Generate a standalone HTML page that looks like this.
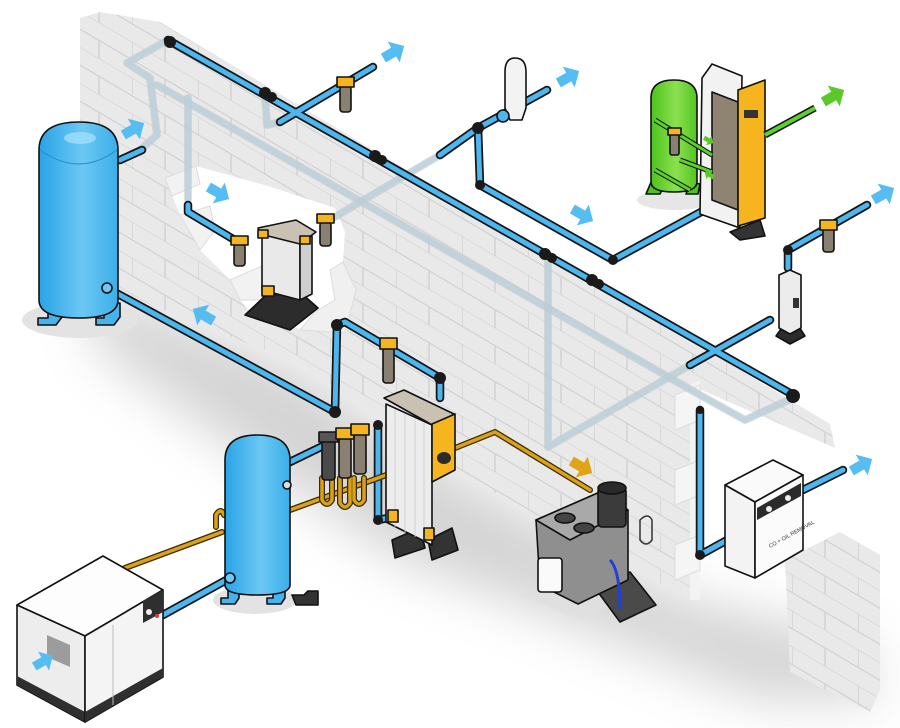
<!DOCTYPE html>
<html><head><meta charset="utf-8"><style>
html,body{margin:0;padding:0;background:#fff;}
svg{display:block;}
.po{fill:none;stroke:#151515;stroke-width:8.5;stroke-linejoin:round;stroke-linecap:round}
.pi{fill:none;stroke:#4cb7ef;stroke-width:5;stroke-linejoin:round;stroke-linecap:round}
.fd{fill:none;stroke:#b8d0dc;stroke-width:6;stroke-linejoin:round;stroke-linecap:round;opacity:.75}
.fdo{fill:none;stroke:#c4c4c4;stroke-width:8;stroke-linejoin:round;stroke-linecap:round;opacity:.55}
.yo{fill:none;stroke:#3a2a00;stroke-width:6;stroke-linejoin:round;stroke-linecap:round}
.yi{fill:none;stroke:#d9a21a;stroke-width:3.5;stroke-linejoin:round;stroke-linecap:round}
.k{stroke:#111;stroke-width:1.6;stroke-linejoin:round}
</style></head><body>
<svg width="900" height="728" viewBox="0 0 900 728" xmlns="http://www.w3.org/2000/svg">
<defs>
<pattern id="brick" width="66" height="36" patternUnits="userSpaceOnUse" patternTransform="skewY(30.5)">
<rect width="66" height="36" fill="#e9e9e9"/>
<path d="M0 0H66M0 18H66M0 0V18M33 18V36" stroke="#cfcfcf" stroke-width="1.2" fill="none"/>
</pattern>
<linearGradient id="tankg" x1="0" x2="1"><stop offset="0" stop-color="#2aa3e6"/><stop offset=".55" stop-color="#6cc8f4"/><stop offset="1" stop-color="#3aaee9"/></linearGradient>
<linearGradient id="greeng" x1="0" x2="1"><stop offset="0" stop-color="#4cc41c"/><stop offset=".55" stop-color="#8be04f"/><stop offset="1" stop-color="#52c422"/></linearGradient>
<filter id="bl" x="-20%" y="-20%" width="140%" height="140%"><feGaussianBlur stdDeviation="26"/></filter>
<g id="arrow"><path d="M-10 -5 L2 -5 L2 -12 L14 0 L2 12 L2 5 L-10 5 Z"/></g>
</defs>

<path d="M80 282 L117 292 L300 365 L450 468 L690 600 L860 640 L880 700 L760 700 L560 620 L400 560 L250 460 L100 350 Z" fill="#a0a0a0" opacity=".45" filter="url(#bl)"/>

<path d="M80 18 L100 12 L160 22 L830 424 L835 448 L690 385 L690 600 L450 468 L300 364 L117 292 L80 282 Z" fill="url(#brick)"/>
<path d="M165 178 L196 166 L268 186 L335 208 L345 232 L343 262 L356 290 L346 333 L305 330 L255 318 L240 300 L230 280 L200 250 L180 215 Z" fill="#fff"/>
<path d="M165 178 L196 166 L200 184 L172 196 Z M180 215 L210 206 L215 230 L200 250 Z M230 280 L262 266 L262 300 L240 300 Z" fill="#f2f2f2" stroke="#dcdcdc"/>
<path d="M300 330 L345 333 L356 290 L343 262 L330 270 L335 300 L315 312 Z" fill="#f0f0f0" stroke="#dcdcdc"/>
<path d="M690 385 L700 380 L700 600 L690 600 Z" fill="#f3f3f3"/>
<path d="M675 395 L700 385 L700 420 L675 430 Z M675 470 L700 460 L700 495 L675 505 Z M675 545 L700 535 L700 570 L675 580 Z" fill="#f5f5f5" stroke="#ddd"/>
<path d="M785 560 L840 532 L880 555 L880 690 L870 712 L790 672 Z" fill="url(#brick)"/>

<g>
<polyline class="fdo" points="168,40 127,63 150,78 157,135 140,150 120,160"/>
<polyline class="fd" points="168,40 127,63 150,78 157,135 140,150 120,160"/>
<polyline class="fdo" points="157,85 700,395 745,420 793,398"/>
<polyline class="fd" points="157,85 700,395 745,420 793,398"/>
<polyline class="fdo" points="188,98 188,200"/>
<polyline class="fd" points="188,98 188,200"/>
<polyline class="fdo" points="265,95 267,125 280,122"/>
<polyline class="fd" points="265,95 267,125 280,122"/>
<polyline class="fdo" points="548,258 548,447 690,365"/>
<polyline class="fd" points="548,258 548,447 690,365"/>
<polyline class="fdo" points="333,218 440,155"/>
<polyline class="fd" points="333,218 440,155"/>
</g>

<g>
<polyline class="po" points="168,40 795,396"/>
<polyline class="po" points="120,160 142,150"/>
<polyline class="po" points="280,122 373,67"/>
<polyline class="po" points="188,205 188,212 238,242"/>
<polyline class="po" points="440,155 478,128 547,90"/>
<polyline class="po" points="478,128 480,185 613,260 723,200"/>
<polyline class="po" points="690,365 770,320"/>
<polyline class="po" points="788,268 788,250 867,205"/>
<polyline class="po" points="700,410 700,555 740,533"/>
<polyline class="po" points="803,490 843,470"/>
<polyline class="po" points="107,288 335,412 337,325 345,322 440,378 440,398"/>
<polyline class="po" points="290,462 325,445"/>
<polyline class="po" points="163,615 230,578"/>
<polyline class="po" points="378,425 378,520 388,518"/>
<polyline class="pi" points="168,40 795,396"/>
<polyline class="pi" points="120,160 142,150"/>
<polyline class="pi" points="280,122 373,67"/>
<polyline class="pi" points="188,205 188,212 238,242"/>
<polyline class="pi" points="440,155 478,128 547,90"/>
<polyline class="pi" points="478,128 480,185 613,260 723,200"/>
<polyline class="pi" points="690,365 770,320"/>
<polyline class="pi" points="788,268 788,250 867,205"/>
<polyline class="pi" points="700,410 700,555 740,533"/>
<polyline class="pi" points="803,490 843,470"/>
<polyline class="pi" points="107,288 335,412 337,325 345,322 440,378 440,398"/>
<polyline class="pi" points="290,462 325,445"/>
<polyline class="pi" points="163,615 230,578"/>
<polyline class="pi" points="378,425 378,520 388,518"/>
</g>
<g fill="#1a1a1a">
<circle cx="170" cy="42" r="6"/><circle cx="265" cy="93" r="6"/><circle cx="272" cy="97" r="5"/>
<circle cx="375" cy="156" r="6"/><circle cx="382" cy="160" r="5"/>
<circle cx="545" cy="254" r="6"/><circle cx="552" cy="258" r="5"/>
<circle cx="592" cy="280" r="6"/><circle cx="599" cy="284" r="5"/>
<circle cx="793" cy="396" r="7"/><circle cx="478" cy="128" r="6"/><circle cx="480" cy="185" r="5"/>
<circle cx="613" cy="260" r="5"/><circle cx="700" cy="555" r="5"/><circle cx="335" cy="412" r="6"/>
<circle cx="337" cy="325" r="6"/><circle cx="440" cy="378" r="6"/><circle cx="788" cy="250" r="5"/>
<circle cx="378" cy="425" r="5"/><circle cx="378" cy="520" r="5"/><circle cx="700" cy="410" r="4"/>
</g>

<polyline class="yo" points="125,568 222,532"/><polyline class="yi" points="125,568 222,532"/>
<polyline class="yo" points="290,510 400,470 495,432 590,490"/><polyline class="yi" points="290,510 400,470 495,432 590,490"/>
<path class="yo" d="M322 478 v22 q5 8 10 0 v-22 M340 478 v25 q5 8 10 0 v-25 M354 478 v22 q5 8 10 0 v-22 M216 527 v-12 q5 -8 8 0 M255 598 q10 14 35 0"/>
<path class="yi" d="M322 478 v22 q5 8 10 0 v-22 M340 478 v25 q5 8 10 0 v-25 M354 478 v22 q5 8 10 0 v-22 M216 527 v-12 q5 -8 8 0 M255 598 q10 14 35 0"/>

<ellipse cx="80" cy="320" rx="58" ry="18" fill="#e3e3e3"/>
<path class="k" d="M48 300 v18 h-10 v7 h18 l6 -8 v-14 Z M104 304 v14 h-8 v7 h18 l6 -8 v-14 Z" fill="#47b3ec"/>
<path class="k" d="M39 150 Q39 122 79 122 Q118 122 118 150 V300 Q118 318 79 318 Q39 318 39 300 Z" fill="url(#tankg)"/>
<path d="M40 150 Q79 178 117 150" fill="none" stroke="#1f8fcc" stroke-width="1"/>
<ellipse cx="80" cy="138" rx="16" ry="6" fill="#a8e2fb" opacity=".7"/>
<circle cx="107" cy="288" r="5" class="k" fill="#6cc8f4"/>

<path d="M245 315 L265 296 L300 292 L318 308 L290 330 Z" fill="#2c2c2c" class="k"/>
<path class="k" d="M262 232 L300 242 L300 300 L262 290 Z" fill="#e9e9e9"/>
<path class="k" d="M300 242 L312 236 L312 294 L300 300 Z" fill="#cfcfcf"/>
<path class="k" d="M258 228 L296 220 L316 232 L300 244 L260 234 Z" fill="#c9c2b4"/>
<rect x="258" y="230" width="10" height="8" fill="#f4b521" class="k"/><rect x="300" y="236" width="10" height="8" fill="#f4b521" class="k"/>
<rect x="262" y="286" width="12" height="10" fill="#f4b521" class="k"/>
<g class="k">
<rect x="234" y="244" width="11" height="22" rx="3" fill="#8a8071"/><path d="M231 236 h17 v9 h-17 Z" fill="#f4b521"/>
<rect x="320" y="222" width="11" height="24" rx="3" fill="#8a8071"/><path d="M317 214 h17 v9 h-17 Z" fill="#f4b521"/>
<rect x="340" y="86" width="11" height="26" rx="3" fill="#8a8071"/><path d="M337 77 h17 v10 h-17 Z" fill="#f4b521"/>
<rect x="383" y="347" width="11" height="36" rx="3" fill="#8a8071"/><path d="M380 338 h17 v11 h-17 Z" fill="#f4b521"/>
<rect x="823" y="228" width="11" height="24" rx="3" fill="#8a8071"/><path d="M820 220 h17 v10 h-17 Z" fill="#f4b521"/>
</g>

<path class="k" d="M505 72 Q505 58 515 58 Q526 58 526 72 V108 L522 120 H510 L505 108 Z" fill="#f3f3f3"/>
<circle cx="503" cy="116" r="6" fill="#4cb7ef" class="k"/>

<ellipse cx="675" cy="200" rx="38" ry="10" fill="#e6e6e6"/>
<path class="k" d="M652 180 l-6 14 h14 l4 -8 Z M690 182 l-4 12 h12 l2 -10 Z" fill="#4cc41c"/>
<path class="k" d="M651 98 Q651 80 674 80 Q697 80 697 98 V182 Q697 192 674 192 Q651 192 651 182 Z" fill="url(#greeng)"/>
<path class="k" d="M702 78 L712 64 L742 76 L740 228 L700 214 Z" fill="#f2f2f2"/>
<path class="k" d="M712 92 L738 102 L738 210 L712 200 Z" fill="#8f8371"/>
<path class="k" d="M738 90 L765 80 L765 218 L738 226 Z" fill="#f6b51f"/>
<rect x="744" y="110" width="14" height="8" fill="#333"/>
<path class="k" d="M730 232 L760 220 L765 236 L740 240 Z" fill="#333"/>
<g fill="none" stroke="#111" stroke-width="5"><path d="M655 120 L712 155 M680 160 L712 172 M655 170 L690 190"/></g>
<g fill="none" stroke="#5cd12a" stroke-width="3"><path d="M655 120 L712 155 M680 160 L712 172 M655 170 L690 190"/></g>
<rect x="670" y="133" width="9" height="22" rx="2" fill="#8a8071" class="k"/><rect x="668" y="128" width="13" height="7" fill="#f4b521" class="k"/>
<line x1="765" y1="135" x2="815" y2="108" stroke="#111" stroke-width="7"/><line x1="765" y1="135" x2="815" y2="108" stroke="#5cd12a" stroke-width="4"/>

<path class="k" d="M776 336 L786 322 L796 322 L805 336 L790 344 Z" fill="#2c2c2c"/>
<path class="k" d="M779 275 L790 270 L801 275 L801 328 L790 334 L779 328 Z" fill="#ececec"/>
<rect x="793" y="298" width="6" height="10" fill="#333"/>

<path class="k" d="M725 485 L773 460 L803 475 L755 502 Z" fill="#fafafa"/>
<path class="k" d="M725 485 L755 502 L755 578 L725 566 Z" fill="#f3f3f3"/>
<path class="k" d="M755 502 L803 475 L803 550 L755 578 Z" fill="#fbfbfb"/>
<path d="M757 508 L801 483 L801 496 L757 520 Z" fill="#2b2b2b"/>
<circle cx="769" cy="509" r="3" fill="#eee"/><circle cx="788" cy="498" r="3" fill="#eee"/>
<text transform="translate(770,548) rotate(-29)" font-family="Liberation Sans, sans-serif" font-size="5.5" fill="#333">CO + OIL REMOVAL</text>

<path d="M520 595 L600 560 L650 590 L580 620 Z" fill="#e0e0e0" opacity=".8"/>
<path class="k" d="M595 588 L630 572 L656 605 L620 622 Z" fill="#4a4a4a"/>
<path class="k" d="M536 520 L600 492 L628 510 L628 580 L578 604 L540 585 Z" fill="#8f8f8f"/>
<path class="k" d="M536 520 L600 492 L628 510 L570 540 Z" fill="#a9a9a9"/>
<ellipse cx="565" cy="518" rx="10" ry="5" fill="#444" class="k"/><ellipse cx="584" cy="528" rx="10" ry="5" fill="#444" class="k"/>
<rect x="598" y="487" width="28" height="40" rx="4" fill="#3b3b3b" class="k"/><ellipse cx="612" cy="488" rx="14" ry="6" fill="#2a2a2a" class="k"/>
<rect x="538" y="558" width="24" height="34" rx="3" fill="#fafafa" class="k"/>
<path d="M610 560 Q620 570 620 610" stroke="#2040d8" stroke-width="3" fill="none"/>
<path d="M640 520 q8 -8 12 0 v20 q-6 8 -12 0 Z" fill="none" stroke="#333" stroke-width="1.5"/>

<path class="k" d="M17 605 L103 556 L163 590 L85 636 Z" fill="#fdfdfd"/>
<path class="k" d="M17 605 L85 636 L85 722 L17 685 Z" fill="#ededed"/>
<path d="M17 676 L85 712 L85 722 L17 685 Z" fill="#2f2f2f"/>
<path class="k" d="M85 636 L163 590 L163 677 L85 722 Z" fill="#f4f4f4"/>
<path d="M85 712 L163 668 L163 677 L85 722 Z" fill="#2f2f2f"/>
<path d="M143 601 L163 590 L163 612 L143 623 Z" fill="#2f2f2f"/>
<circle cx="149" cy="612" r="3" fill="#eee"/><circle cx="157" cy="616" r="2" fill="#e33"/>
<path d="M47 635 L70 645 L70 667 L47 657 Z" fill="#9c9c9c"/>
<line x1="113" y1="625" x2="113" y2="705" stroke="#bbb"/>

<ellipse cx="255" cy="600" rx="42" ry="14" fill="#e3e3e3"/>
<path class="k" d="M228 585 v13 h-7 v6 h14 l4 -6 v-13 Z M273 585 v13 h-6 v6 h14 l4 -6 v-13 Z" fill="#47b3ec"/>
<path class="k" d="M225 460 Q225 435 257 435 Q290 435 290 460 V585 Q290 595 257 595 Q225 595 225 585 Z" fill="url(#tankg)"/>
<circle cx="230" cy="578" r="5" class="k" fill="#6cc8f4"/>
<circle cx="287" cy="485" r="4" fill="#ddd" class="k"/>
<path class="k" d="M292 595 h12 l4 -4 h10 v14 h-22 Z" fill="#333"/>

<g class="k">
<rect x="322" y="440" width="13" height="40" rx="3" fill="#4a4a4a"/><path d="M319 432 h19 v10 h-19Z" fill="#555"/>
<rect x="339" y="438" width="12" height="40" rx="3" fill="#8a8071"/><path d="M336 428 h18 v11 h-18Z" fill="#f4b521"/>
<rect x="354" y="434" width="12" height="40" rx="3" fill="#8a8071"/><path d="M351 424 h18 v11 h-18Z" fill="#f4b521"/>
</g>

<path class="k" d="M392 540 L420 528 L425 548 L395 558 Z M428 540 L452 528 L458 550 L432 560 Z" fill="#333"/>
<path class="k" d="M386 404 L432 425 L432 545 L386 522 Z" fill="#ececec"/>
<g stroke="#cfcfcf"><line x1="395" y1="410" x2="395" y2="527"/><line x1="405" y1="414" x2="405" y2="532"/><line x1="415" y1="419" x2="415" y2="537"/><line x1="424" y1="423" x2="424" y2="541"/></g>
<path class="k" d="M384 398 L404 390 L454 414 L434 426 Z" fill="#c9c1b2"/>
<path class="k" d="M432 424 L455 414 L455 470 L432 482 Z" fill="#f6b51f"/>
<ellipse cx="444" cy="458" rx="7" ry="6" fill="#2b2b2b"/>
<rect x="388" y="510" width="10" height="12" fill="#f4b521" class="k"/><rect x="424" y="528" width="10" height="12" fill="#f4b521" class="k"/>

<g fill="#56bdf3">
<use href="#arrow" transform="translate(392,53) rotate(-30)"/>
<use href="#arrow" transform="translate(567,78) rotate(-30)"/>
<use href="#arrow" transform="translate(132,130) rotate(-30)"/>
<use href="#arrow" transform="translate(217,192) rotate(30)"/>
<use href="#arrow" transform="translate(205,316) rotate(210)"/>
<use href="#arrow" transform="translate(581,214) rotate(30)"/>
<use href="#arrow" transform="translate(882,195) rotate(-30)"/>
<use href="#arrow" transform="translate(860,466) rotate(-30)"/>
<use href="#arrow" transform="translate(42,662) rotate(-30) scale(.9)"/>
</g>
<use href="#arrow" fill="#5cc82a" transform="translate(832,97) rotate(-30)"/>
<use href="#arrow" fill="#e0a416" transform="translate(580,466) rotate(30)"/>
<g fill="#5cc82a"><use href="#arrow" transform="translate(708,140) rotate(30) scale(.45)"/><use href="#arrow" transform="translate(710,175) rotate(210) scale(.45)"/></g>
</svg>
</body></html>
